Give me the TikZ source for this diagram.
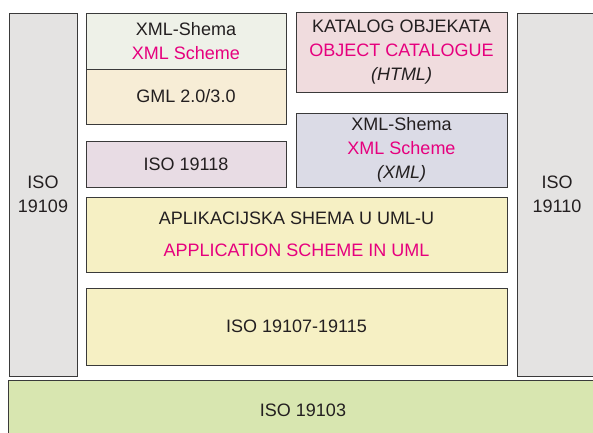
\documentclass[tikz,border=0pt]{standalone}
\usepackage{fontspec}
\setmainfont{Liberation Sans}
\definecolor{txt}{HTML}{231F20}
\definecolor{mag}{HTML}{E6007E}
\definecolor{edge}{HTML}{3A3A3A}
\definecolor{cgray}{HTML}{E4E3E2}
\definecolor{cxs}{HTML}{EEF1E8}
\definecolor{cgml}{HTML}{F7EDD6}
\definecolor{cisoa}{HTML}{E8DCE4}
\definecolor{ckat}{HTML}{F0DCDE}
\definecolor{cxr}{HTML}{DBDBE6}
\definecolor{cyel}{HTML}{F6F0C4}
\definecolor{cgrn}{HTML}{D8E6B0}
\tikzset{
  blk/.style={draw=edge, line width=0.9pt, rectangle, inner sep=0pt, align=center,
    text=txt, font=\fontsize{18}{24}\selectfont},
}
\newcommand{\mg}[1]{\textcolor{mag}{#1}}
\begin{document}
\begin{tikzpicture}[x=1pt,y=-1pt]
\useasboundingbox (0,0) rectangle (593,432);
\fill[white] (0,0) rectangle (593,432);
\node[blk, fill=cgray, minimum width=68pt, minimum height=363pt] (l) at (43,194.5) {ISO\\19109};
\node[blk, fill=cgray, minimum width=80pt, minimum height=363pt] (r) at (557,194.5) {ISO\\19110};
\node[blk, fill=cgrn, minimum width=590pt, minimum height=60pt] (b) at (303,410) {ISO 19103};
\node[blk, fill=cxs, minimum width=200pt, minimum height=56pt] (xs) at (186,41) {XML-Shema\\\mg{XML Scheme}};
\node[blk, fill=cgml, minimum width=200pt, minimum height=55pt] (gml) at (186,96.5) {GML 2.0/3.0};
\node[blk, fill=cisoa, minimum width=200pt, minimum height=46pt] (i118) at (186,164) {ISO 19118};
\node[blk, fill=ckat, minimum width=211pt, minimum height=80pt] (kat) at (401.5,52) {KATALOG OBJEKATA\\\mg{OBJECT CATALOGUE}\\\textit{(HTML)}};
\node[blk, fill=cxr, minimum width=211pt, minimum height=74pt] (xr) at (401.5,150) {XML-Shema\\\mg{XML Scheme}\\\textit{(XML)}};
\node[blk, fill=cyel, minimum width=421pt, minimum height=75pt, font=\fontsize{18}{32}\selectfont] (app) at (296.5,234.5) {APLIKACIJSKA SHEMA U UML-U\\\mg{APPLICATION SCHEME IN UML}};
\node[blk, fill=cyel, minimum width=421pt, minimum height=77pt] (i107) at (296.5,326.5) {ISO 19107-19115};
\end{tikzpicture}
\end{document}
